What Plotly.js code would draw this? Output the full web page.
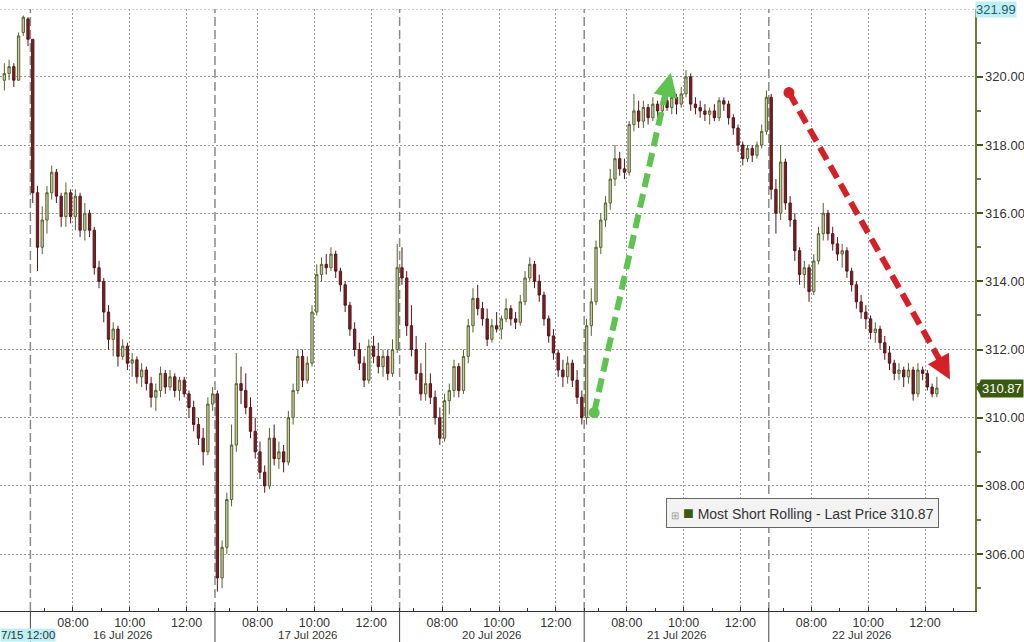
<!DOCTYPE html>
<html><head><meta charset="utf-8">
<script src="https://cdn.plot.ly/plotly-3.0.1.min.js"></script>
<style>html,body{margin:0;padding:0;background:#fff;overflow:hidden}#chart{width:1024px;height:642px}</style>
</head><body><div id="chart"></div>
<script>
// ---- sessions (10-minute bars) ----
const sessionLabels = ['15 Jul 2026','16 Jul 2026','17 Jul 2026','20 Jul 2026','21 Jul 2026','22 Jul 2026'];
const sessionFirstBar = ['12:00','06:30','06:30','06:30','06:30','06:30'];
const sessionBarCount = [6,39,39,39,39,36];
const barMinutes = 10;

// ---- OHLC values ----
const open = [
 319.9,320.1,320.3,319.9,321.3,321.7,
 321.1,316.6,315.0,315.8,316.6,317.2,316.5,315.9,316.6,315.9,316.5,315.5,316.0,315.5,314.4,314.0,313.1,312.3,312.6,311.8,312.1,311.6,311.7,311.2,311.4,311.0,310.6,310.8,311.3,310.9,311.2,310.8,311.1,310.7,310.3,309.8,309.4,309.0,310.4,
 310.7,305.3,306.2,307.6,309.2,311.0,310.8,310.3,309.6,309.0,308.4,308.0,309.4,308.8,309.0,308.7,310.0,310.8,311.8,311.1,311.6,313.1,314.2,314.5,314.4,314.8,314.3,313.9,313.3,312.6,312.0,311.6,311.1,312.1,311.8,311.5,311.8,311.3,312.0,
 314.4,314.1,312.7,312.0,311.3,310.7,311.0,310.6,310.0,309.4,310.5,310.8,311.5,310.8,311.8,312.7,313.5,313.2,312.9,312.3,312.7,312.6,312.9,313.2,312.9,312.8,313.4,314.1,314.5,314.0,313.6,312.9,312.4,311.9,311.4,311.2,311.6,311.1,310.6,
 310.0,312.7,313.4,315.0,315.8,316.3,317.0,317.6,317.3,317.2,318.6,319.0,318.7,319.1,318.8,319.2,319.0,319.3,319.1,319.4,319.2,319.5,320.0,319.2,319.1,319.0,318.9,319.0,318.8,319.3,319.2,318.8,318.5,318.0,317.6,317.9,317.7,318.0,318.4,
 319.4,316.7,316.0,317.5,316.3,315.8,314.9,314.2,314.4,313.7,314.6,315.4,316.0,315.4,315.1,314.8,314.9,314.3,313.9,313.4,313.1,312.9,312.5,312.6,312.2,311.9,311.6,311.3,311.4,311.2,311.4,310.7,311.4,311.3,310.9,310.7
];
const high = [
 320.4,320.5,320.4,321.3,321.8,321.75,
 321.1,316.8,316.2,316.8,317.4,317.3,316.6,316.9,316.7,316.7,316.6,316.3,316.1,315.6,314.6,314.1,313.3,312.8,312.7,312.3,312.2,311.9,311.8,311.6,311.5,311.2,311.0,311.5,311.4,311.4,311.3,311.2,311.2,310.8,310.5,310.0,309.7,310.6,310.9,
 310.8,306.4,307.8,309.8,311.9,311.5,311.3,310.6,310.0,309.3,308.6,309.7,309.8,309.3,309.2,310.2,311.0,312.0,312.0,311.8,313.3,314.5,314.7,314.8,315.0,314.9,314.4,314.0,313.4,312.8,312.2,311.8,312.3,312.4,312.2,312.0,312.0,312.3,315.1,
 315.0,314.3,313.3,312.4,311.6,312.2,311.3,310.8,310.3,310.7,311.0,311.7,311.6,312.0,312.9,313.8,313.9,313.4,313.2,312.9,313.1,313.0,313.5,313.3,313.1,313.6,314.3,314.7,314.6,314.2,313.7,313.0,312.6,312.0,311.7,311.8,311.7,311.4,310.8,
 312.9,313.8,315.2,316.0,316.5,317.3,318.0,317.8,317.6,318.7,319.5,319.3,319.3,319.2,319.4,319.3,319.4,319.5,319.5,319.5,319.7,320.2,320.1,319.4,319.3,319.2,319.1,319.2,319.4,319.4,319.3,318.9,318.6,318.1,318.0,318.0,318.1,318.6,319.6,
 319.5,317.0,318.0,317.6,316.5,316.0,315.0,314.6,314.5,314.8,315.6,316.3,316.1,315.6,315.3,315.1,315.0,314.4,314.0,313.6,313.3,313.0,312.8,312.7,312.4,312.1,311.7,311.6,311.5,311.6,311.5,311.6,311.5,311.4,311.0,311.2
];
const low = [
 319.6,319.9,319.7,319.9,321.2,320.9,
 316.3,314.3,314.8,315.4,316.4,316.3,315.6,315.6,315.7,315.5,315.3,315.2,315.3,314.2,313.8,312.8,312.0,311.8,311.5,311.7,311.4,311.2,311.0,310.9,310.8,310.3,310.2,310.6,310.7,310.8,310.6,310.5,310.6,310.0,309.6,309.2,308.6,308.9,310.2,
 304.9,305.0,306.0,307.4,309.0,310.4,310.1,309.4,308.8,308.2,307.8,307.9,308.6,308.5,308.4,308.6,309.8,310.7,310.9,311.0,311.5,313.0,314.0,314.2,314.3,314.1,313.7,313.1,312.4,311.8,311.4,310.9,311.0,311.6,311.3,311.2,311.1,311.2,311.9,
 313.9,312.4,311.8,311.1,310.5,310.5,310.4,309.8,309.2,309.3,310.1,310.6,310.6,310.7,311.6,312.5,313.0,312.7,312.1,312.2,312.5,312.3,312.8,312.7,312.6,312.7,313.3,314.0,313.8,313.4,312.7,312.2,311.7,311.2,310.9,311.0,310.9,310.4,309.8,
 309.8,312.4,313.3,314.8,315.6,316.1,316.8,317.1,317.0,317.1,318.4,318.5,318.5,318.6,318.7,318.8,318.9,319.0,318.9,318.9,319.1,319.4,319.0,318.9,318.8,318.7,318.6,318.7,318.7,319.0,318.6,318.3,317.8,317.4,317.5,317.5,317.6,317.9,318.3,
 316.4,315.4,315.8,316.1,315.6,314.6,313.9,313.8,313.4,313.6,314.5,315.2,315.2,314.9,314.6,314.4,314.1,313.7,313.2,312.9,312.6,312.3,312.2,312.0,311.7,311.4,311.1,311.1,310.9,311.0,310.5,310.6,311.1,310.8,310.6,310.6
];
const close = [
 320.1,320.3,319.9,321.2,321.75,321.1,
 316.6,315.0,315.8,316.6,317.2,316.5,315.9,316.6,315.9,316.5,315.5,316.0,315.5,314.4,314.0,313.1,312.3,312.6,311.8,312.1,311.6,311.7,311.2,311.4,311.0,310.6,310.8,311.3,310.9,311.2,310.8,311.1,310.7,310.3,309.8,309.4,309.0,310.4,310.7,
 305.3,306.2,307.6,309.2,311.0,310.8,310.3,309.6,309.0,308.4,308.0,309.4,308.8,309.0,308.7,310.0,310.8,311.8,311.1,311.6,313.1,314.2,314.5,314.4,314.8,314.3,313.9,313.3,312.6,312.0,311.6,311.1,312.1,311.8,311.5,311.8,311.3,312.0,314.4,
 314.1,312.7,312.0,311.3,310.7,311.0,310.6,310.0,309.4,310.5,310.8,311.5,310.8,311.8,312.7,313.5,313.2,312.9,312.3,312.7,312.6,312.9,313.2,312.9,312.8,313.4,314.1,314.5,314.0,313.6,312.9,312.4,311.9,311.4,311.2,311.6,311.1,310.6,310.0,
 312.7,313.4,315.0,315.8,316.3,317.0,317.6,317.3,317.2,318.6,319.0,318.7,319.1,318.8,319.2,319.0,319.3,319.1,319.4,319.2,319.5,320.0,319.2,319.1,319.0,318.9,319.0,318.8,319.3,319.2,318.8,318.5,318.0,317.6,317.9,317.7,318.0,318.4,319.4,
 316.7,316.0,317.5,316.3,315.8,314.9,314.2,314.4,313.7,314.6,315.4,316.0,315.4,315.1,314.8,314.9,314.3,313.9,313.4,313.1,312.9,312.5,312.6,312.2,311.9,311.6,311.3,311.4,311.2,311.4,310.7,311.4,311.3,310.9,310.7,310.87
];

const lastPrice = 310.87;
const topPrice = 321.99;
const yTickVals = [306,308,310,312,314,316,318,320];
const timeTickLabels = ['08:00','10:00','12:00'];
const timeTickHours = [8,10,12];
const seriesName = 'Most Short Rolling - Last Price';

// ---- session-compressed time axis: each session 06:30-13:00 = 6.5 units ----
const SESSION_OPEN = 6.5, SESSION_LEN = 6.5;
function toHours(hhmm){const p=hhmm.split(':');return +p[0] + (+p[1])/60;}
function sessX(s, hours){return (s-1)*SESSION_LEN + (hours - SESSION_OPEN);}

const xs = [];
sessionBarCount.forEach((n,s)=>{
  const h0 = toHours(sessionFirstBar[s]);
  for(let k=0;k<n;k++) xs.push(sessX(s, h0 + (k*barMinutes + barMinutes/2)/60));
});

const MARGIN_B = 31, PLOT_H = 642 - 9 - MARGIN_B;
const dateY = -(MARGIN_B) / PLOT_H;   // bottom of the figure, in paper units

const tickvals=[], ticktext=[], minorVals=[], sepX=[], dateAnn=[];
for(let s=1;s<sessionLabels.length;s++){
  timeTickHours.forEach((h,i)=>{tickvals.push(sessX(s,h)); ticktext.push(timeTickLabels[i]);});
  [7,9,11,13].forEach(h=>minorVals.push(sessX(s,h)));
  sepX.push(sessX(s,SESSION_OPEN));
  dateAnn.push({x:sessX(s,SESSION_OPEN+SESSION_LEN/2), xref:'x', y:dateY, yref:'paper', yanchor:'bottom',
    text:sessionLabels[s], showarrow:false, borderpad:0, font:{size:11.5,color:'#333'}});
}

const upLine='#55652a', upFill='#c8ccab', dnLine='#5a1418', dnFill='#7a2226';
const green='#5dc450', red='#d62027';

const trace = {
  type:'candlestick', x:xs, open:open, high:high, low:low, close:close,
  increasing:{line:{color:upLine,width:1}, fillcolor:upFill},
  decreasing:{line:{color:dnLine,width:1}, fillcolor:dnFill},
  whiskerwidth:0, hoverinfo:'skip', name:seriesName
};

// arrows (decorations): start dot, line end, arrow tip
const greenArrow = {start:[19.85,310.15], lineEnd:[22.36,319.50], tip:[22.55,320.12], ax:-5, ay:22};
const redArrow   = {start:[26.71,319.54], lineEnd:[32.00,311.72], tip:[32.38,311.12], ax:-11, ay:-20};

const shapes = [];
sepX.forEach(x=>{
  shapes.push({type:'line', xref:'x', yref:'paper', x0:x, x1:x, y0:0, y1:1, layer:'below',
    line:{color:'#8a8a8a', width:1.5, dash:'9px,4px'}});
  shapes.push({type:'line', xref:'x', yref:'paper', x0:x, x1:x, y0:0, y1:dateY, layer:'above',
    line:{color:'#444', width:1}});
});
shapes.push({type:'line', xref:'paper', yref:'y', x0:0, x1:1, y0:topPrice, y1:topPrice, layer:'below',
  line:{color:'#9a9a9a', width:1, dash:'2px,2px'}});
[[greenArrow,green],[redArrow,red]].forEach(([a,c])=>{
  shapes.push({type:'line', xref:'x', yref:'y', x0:a.start[0], y0:a.start[1], x1:a.lineEnd[0], y1:a.lineEnd[1],
    line:{color:c, width:6, dash:'14px,7px'}});
  shapes.push({type:'circle', xref:'x', yref:'y', xsizemode:'pixel', ysizemode:'pixel',
    xanchor:a.start[0], yanchor:a.start[1], x0:-5.5, x1:5.5, y0:-5.5, y1:5.5, fillcolor:c, line:{width:0}});
});
// last price pointer
shapes.push({type:'path', xref:'paper', yref:'y',
  path:'M 1.0012,'+lastPrice+' L 1.0062,'+(lastPrice+0.24)+' L 1.0062,'+(lastPrice-0.24)+' Z',
  fillcolor:'#3a5a10', line:{width:0}});

const annotations = dateAnn.concat([
  {x:0, xref:'paper', xanchor:'left', y:dateY, yref:'paper', yanchor:'bottom', text:'7/15 12:00', showarrow:false,
    bgcolor:'#bdf0f5', borderpad:0, font:{size:11.5,color:'#333'}},
  {x:1, xref:'paper', xanchor:'left', xshift:0, y:topPrice, yref:'y', yanchor:'middle', text:topPrice.toFixed(2), showarrow:false,
    bgcolor:'#bdf0f5', borderpad:0, font:{size:13,color:'#2b5a6a'}},
  {x:1, xref:'paper', xanchor:'left', xshift:5, y:lastPrice, yref:'y', yanchor:'middle', text:lastPrice.toFixed(2), showarrow:false,
    bgcolor:'#3a5a10', borderpad:1, font:{size:13,color:'#ffffff'}},
  {x:0.8226, xref:'paper', y:0.1623, yref:'paper', xanchor:'center', yanchor:'middle', showarrow:false,
    text:'<span style="color:#999;font-size:10px">⊞</span> <span style="color:#3a5a10;font-size:18px">■</span> '+seriesName+' '+lastPrice.toFixed(2),
    bgcolor:'#f3f3f3', bordercolor:'#666', borderwidth:1, borderpad:4, font:{size:14,color:'#333'}},
  {x:greenArrow.tip[0], y:greenArrow.tip[1], xref:'x', yref:'y', ax:greenArrow.ax, ay:greenArrow.ay, text:'',
    showarrow:true, arrowhead:2, arrowsize:0.8, arrowwidth:6, arrowcolor:green, standoff:0},
  {x:redArrow.tip[0], y:redArrow.tip[1], xref:'x', yref:'y', ax:redArrow.ax, ay:redArrow.ay, text:'',
    showarrow:true, arrowhead:2, arrowsize:0.8, arrowwidth:6, arrowcolor:red, standoff:0}
]);

const layout = {
  width:1024, height:642,
  margin:{l:0, r:49, t:9, b:MARGIN_B, pad:0},
  paper_bgcolor:'#ffffff', plot_bgcolor:'#ffffff',
  showlegend:false,
  font:{family:'"Liberation Sans", Arial, sans-serif', size:13, color:'#333'},
  xaxis:{
    type:'linear', range:[-1.07,33.26], fixedrange:true,
    rangeslider:{visible:false},
    tickmode:'array', tickvals:tickvals, ticktext:ticktext,
    ticks:'inside', ticklen:4, tickcolor:'#333', tickwidth:1,
    showgrid:true, gridcolor:'#9a9a9a', gridwidth:1, griddash:'2px,2px',
    showline:true, linecolor:'#333', linewidth:1, zeroline:false,
    minor:{tickmode:'array', tickvals:minorVals, ticks:'inside', ticklen:3, tickcolor:'#333', showgrid:false},
    tickfont:{size:12.5, color:'#333'}
  },
  yaxis:{
    side:'right', range:[304.33, topPrice], fixedrange:true,
    tickmode:'array', tickvals:yTickVals, ticktext:yTickVals.map(v=>v.toFixed(2)),
    ticks:'outside', ticklen:6, tickwidth:2, tickcolor:'#3a5a10',
    showgrid:true, gridcolor:'#9a9a9a', gridwidth:1, griddash:'2px,2px',
    showline:true, linecolor:'#6b7b3b', linewidth:1.5, zeroline:false,
    minor:{dtick:1, ticks:'outside', ticklen:4, tickcolor:'#6b7b3b', showgrid:false},
    tickfont:{size:13, color:'#333'}
  },
  shapes:shapes, annotations:annotations
};

Plotly.newPlot('chart', [trace], layout, {staticPlot:true, displayModeBar:false});
</script></body></html>
